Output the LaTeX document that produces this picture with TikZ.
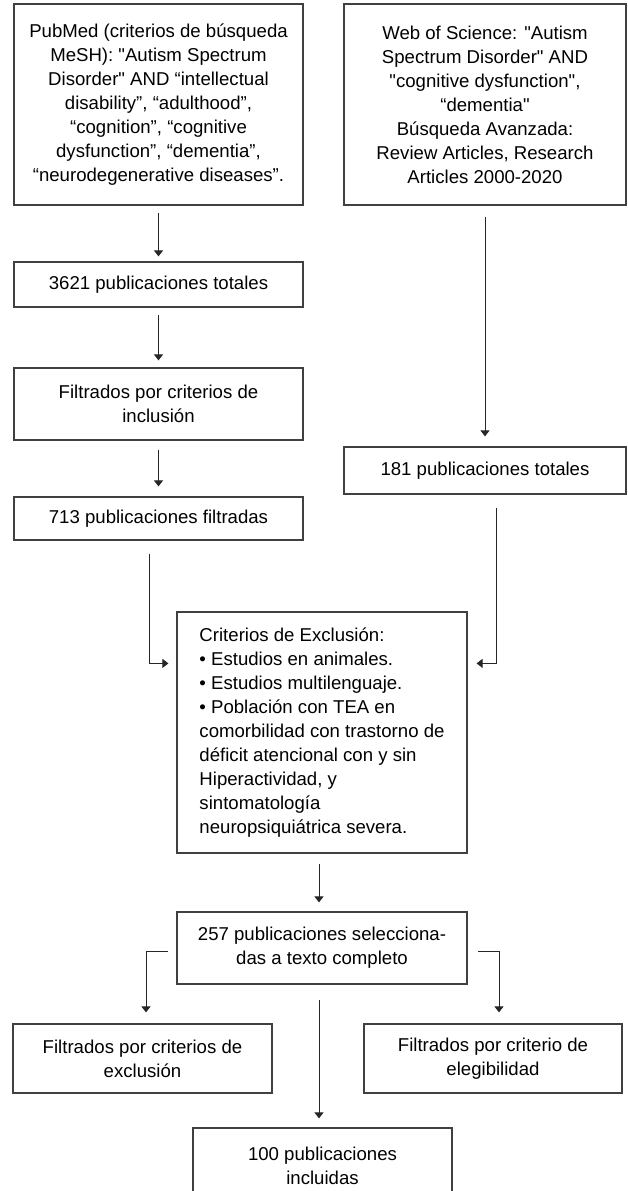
\documentclass[tikz,border=0pt]{standalone}
\usepackage{fontspec}
\setmainfont{Liberation Sans}[Ligatures=TeXOff]
\usetikzlibrary{arrows.meta}
\begin{document}
\begin{tikzpicture}[x=1pt,y=-1pt,
  box/.style={draw=black!75,line width=1.2pt,inner sep=0pt,align=center,
    font=\fontsize{18.6}{24}\selectfont},
  arr/.style={draw=black!85,line width=1pt,-{Triangle[width=9pt,length=6pt]}}]
\useasboundingbox (0,0) rectangle (627,1191);
\clip (0,0) rectangle (627,1191);
\node[box,minimum width=289pt,minimum height=201pt] (pub) at (158.5,104.5)
  {PubMed (criterios de búsqueda\\MeSH): "Autism Spectrum\\Disorder" AND “intellectual\\disability”, “adulthood”,\\“cognition”, “cognitive\\dysfunction”, “dementia”,\\“neurodegenerative diseases”.};
\node[box,minimum width=282pt,minimum height=201pt] (wos) at (485,104.5)
  {Web of Science: "Autism\\Spectrum Disorder" AND\\"cognitive dysfunction",\\“dementia"\\Búsqueda Avanzada:\\Review Articles, Research\\Articles 2000-2020};
\node[box,minimum width=289pt,minimum height=45pt] (t3621) at (158.5,284.5) {3621 publicaciones totales};
\node[box,minimum width=289pt,minimum height=72pt] (incl) at (158.5,404) {Filtrados por criterios de\\inclusión};
\node[box,minimum width=289pt,minimum height=43pt] (f713) at (158.5,518.5) {713 publicaciones filtradas};
\node[box,minimum width=282pt,minimum height=47pt] (t181) at (485,470.5) {181 publicaciones totales};
\node[box,align=left,minimum width=290pt,minimum height=241pt] (excl) at (322,732.5)
  {Criterios de Exclusión:\\• Estudios en animales.\\• Estudios multilenguaje.\\• Población con TEA en\\comorbilidad con trastorno de\\déficit atencional con y sin\\Hiperactividad, y\\sintomatología\\neuropsiquiátrica severa.};
\node[box,minimum width=290pt,minimum height=72pt] (s257) at (322,948) {257 publicaciones selecciona-\\das a texto completo};
\node[box,minimum width=259pt,minimum height=69pt] (fex) at (142.5,1058.5) {Filtrados por criterios de\\exclusión};
\node[box,minimum width=258pt,minimum height=69pt] (fel) at (493,1058.5) {Filtrados por criterio de\\elegibilidad};
\node[box,minimum width=259pt,minimum height=75pt] (inc100) at (322.5,1165.5) {100 publicaciones\\incluidas};
\draw[arr,shorten <=7pt,shorten >=5pt] (pub.south) -- (t3621.north);
\draw[arr,shorten <=7pt,shorten >=7pt] (t3621.south) -- (incl.north);
\draw[arr,shorten <=9pt,shorten >=10pt] (incl.south) -- (f713.north);
\draw[arr,shorten <=11pt,shorten >=10pt] (wos.south) -- (t181.north);
\draw[arr,shorten <=13pt,shorten >=9pt] ([xshift=11pt]t181.south) |- ([yshift=-52pt]excl.north east);
\draw[arr,shorten <=13pt,shorten >=8pt] ([xshift=-9.5pt]f713.south) |- ([yshift=-52pt]excl.north west);
\draw[arr,shorten <=10pt,shorten >=9pt] ([xshift=-3pt]excl.south) -- ([xshift=-3pt]s257.north);
\draw[arr,shorten <=8pt,shorten >=11pt] ([yshift=-3pt]s257.west) -| ([xshift=3.5pt]fex.north);
\draw[arr,shorten <=10pt,shorten >=11pt] ([yshift=-3pt]s257.east) -| ([xshift=6pt]fel.north);
\draw[arr,shorten <=15pt,shorten >=9pt] ([xshift=-3pt]s257.south) -- ([xshift=-3.5pt]inc100.north);
\end{tikzpicture}
\end{document}
